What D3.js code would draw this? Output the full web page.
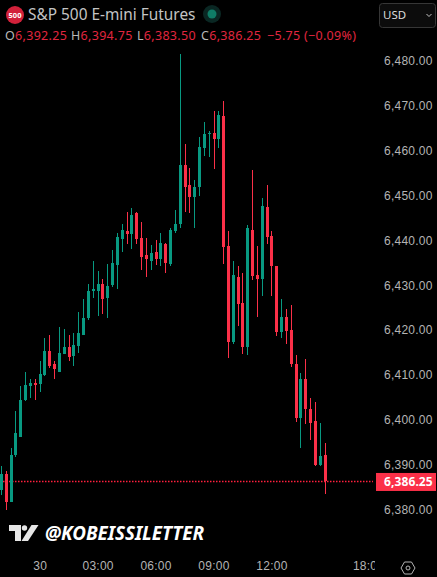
<!DOCTYPE html>
<html>
<head>
<meta charset="utf-8">
<script src="https://cdnjs.cloudflare.com/ajax/libs/d3/7.8.5/d3.min.js"></script>
<style>
  html, body { margin: 0; padding: 0; background: #000; overflow: hidden; }
  svg { display: block; font-family: "Noto Sans", sans-serif; }
  .axis text { fill: #b4b4b4; font-size: 12px; letter-spacing: 0.25px; }
  .axis path, .axis line { display: none; }
</style>
</head>
<body>
<svg></svg>
<script>
// 15 minute candles
let opens = [6384.25, 6388, 6381.75, 6392.25, 6396.25, 6404.5, 6407.5, 6408.25, 6408, 6410, 6415.25, 6412.5, 6410.75, 6414.75, 6416.25, 6414.25, 6416.5, 6419, 6422.75, 6428.75, 6428.75, 6430.25, 6427.25, 6430, 6434.5, 6440.25, 6442, 6441.5, 6446, 6440.5, 6436.75, 6435.5, 6437.5, 6435.75, 6439.25, 6434.75, 6442, 6443.75, 6456.75, 6452.25, 6449.75, 6452, 6460.5, 6463.75, 6464, 6462.5, 6467.75, 6438.75, 6417.25, 6431.75, 6426, 6416.25, 6442.25, 6432.25, 6431.5, 6447.5, 6441, 6434.25, 6419.5, 6423, 6420, 6412.5, 6400.5, 6409, 6402.5, 6399.75, 6390, 6392.25];
let highs = [6389.75, 6388.5, 6393.75, 6402, 6407.5, 6410.75, 6409, 6409, 6413, 6418.25, 6419, 6413, 6420.75, 6420.25, 6419, 6419.25, 6424, 6427, 6430.25, 6435.5, 6433.25, 6431.5, 6434.75, 6437.75, 6441.75, 6443.75, 6446.25, 6447.25, 6446.25, 6444, 6440.5, 6439, 6440, 6441.75, 6439.5, 6442.75, 6446.75, 6481.5, 6461.5, 6456.25, 6453.5, 6463, 6466.5, 6464.5, 6468.75, 6468.75, 6471, 6442, 6435.5, 6434.25, 6432.75, 6443.5, 6455.75, 6438.75, 6449.5, 6452.25, 6442, 6434.25, 6427, 6424.75, 6425.5, 6414.5, 6410.5, 6413.5, 6404.75, 6404, 6399.25, 6394.75];
let lows = [6383.25, 6380, 6381.75, 6391.75, 6396.25, 6404.25, 6404.75, 6404.5, 6406.25, 6409.75, 6411.5, 6409, 6410.75, 6414.75, 6413, 6412, 6415, 6419, 6422.25, 6427.25, 6423.25, 6423.5, 6422.75, 6429.5, 6429.25, 6437.5, 6439.25, 6438, 6439.25, 6433.5, 6431.75, 6433.5, 6434.5, 6434.25, 6432.75, 6434.25, 6441.75, 6442.75, 6446.25, 6446, 6442.75, 6450, 6458.75, 6458.5, 6456, 6460.5, 6434.75, 6413.75, 6417, 6421, 6414.75, 6414.5, 6431.25, 6423, 6427.5, 6439.25, 6427.5, 6418.75, 6418.25, 6417, 6411.75, 6399.5, 6393.75, 6399, 6395.5, 6389.75, 6389.75, 6383.5];
let closes = [6388, 6381.75, 6392.25, 6397, 6404.5, 6407.75, 6408.25, 6407.75, 6410.25, 6415.25, 6412, 6411.25, 6415, 6416.25, 6414, 6416.75, 6419.25, 6422.75, 6428.75, 6429.25, 6430.25, 6427, 6429.75, 6435, 6440.75, 6442.25, 6441.5, 6445.75, 6440.25, 6436.25, 6435.75, 6437.25, 6435.75, 6439.5, 6435, 6442.25, 6443.75, 6456.75, 6452, 6449.75, 6452, 6460.75, 6463.75, 6464, 6462.5, 6468, 6438.5, 6417.25, 6432.25, 6425.75, 6416.25, 6442.75, 6432, 6431.5, 6447.75, 6440.75, 6434.25, 6419.5, 6423, 6419.75, 6412.5, 6400.5, 6409, 6402.5, 6399.25, 6390, 6392, 6386.25];

let priceTicks = [6380, 6390, 6400, 6410, 6420, 6430, 6440, 6450, 6460, 6470, 6480];
let lastPrice = 6386.25;
let timeTickBars = [8, 20, 32, 44, 56, 76];
let timeTickLabels = ["30", "03:00", "06:00", "09:00", "12:00", "18:00"];

let legendParts = [
  { letter: "O", value: "6,392.25", x: 5 },
  { letter: "H", value: "6,394.75", x: 71 },
  { letter: "L", value: "6,383.50", x: 137 },
  { letter: "C", value: "6,386.25", x: 201 }
];

let width = 437;
let height = 577;
let green = "#089981";
let red = "#fb3048";

let svg = d3.select("svg").attr("width", width).attr("height", height);
svg.append("rect").attr("width", width).attr("height", height).attr("fill", "#000");

// bar number -> x, price -> y
let scaleX = d3.scaleLinear().domain([0, 67]).range([1, 324.6]);
let scaleY = d3.scaleLinear().domain([6380, 6480]).range([509.5, 61]);

// цена закрытия - пунктир
svg.append("line")
  .attr("x1", 0)
  .attr("x2", 373)
  .attr("y1", Math.round(scaleY(lastPrice)) + 0.5)
  .attr("y2", Math.round(scaleY(lastPrice)) + 0.5)
  .attr("stroke", "#ff1f3d")
  .attr("stroke-width", 1.5)
  .attr("stroke-dasharray", "1.5 1.5");

// candles
let candles = svg.append("g").attr("shape-rendering", "crispEdges");
opens.forEach(function (open, i) {
  let color = closes[i] >= open ? green : red;
  let cx = Math.round(scaleX(i));
  candles.append("rect")
    .attr("x", cx)
    .attr("y", scaleY(highs[i]))
    .attr("width", 1)
    .attr("height", scaleY(lows[i]) - scaleY(highs[i]))
    .attr("fill", color);
  let top = scaleY(Math.max(open, closes[i]));
  let bottom = scaleY(Math.min(open, closes[i]));
  candles.append("rect")
    .attr("x", cx - 1)
    .attr("y", top)
    .attr("width", 3)
    .attr("height", Math.max(bottom - top, 1))
    .attr("fill", color);
});

// price axis
let axisY = d3.axisRight(scaleY)
  .tickValues(priceTicks)
  .tickSize(0)
  .tickPadding(0)
  .tickFormat(d3.format(",.2f"));
svg.append("g")
  .attr("class", "axis")
  .attr("transform", "translate(384, 0)")
  .call(axisY);

// last price label
svg.append("rect")
  .attr("x", 376)
  .attr("y", scaleY(lastPrice) - 8.5)
  .attr("width", 60)
  .attr("height", 18)
  .attr("fill", red);
svg.append("text")
  .attr("x", 384)
  .attr("y", scaleY(lastPrice) + 4.5)
  .attr("fill", "#fff")
  .attr("font-size", 12)
  .attr("font-weight", 700)
  .attr("letter-spacing", 0.1)
  .text(d3.format(",.2f")(lastPrice));

// time axis, 18:00 is cut by the price scale
svg.append("clipPath")
  .attr("id", "timeClip")
  .append("rect")
  .attr("x", 0)
  .attr("y", 550)
  .attr("width", 375)
  .attr("height", 27);
let axisX = d3.axisBottom(scaleX)
  .tickValues(timeTickBars)
  .tickSize(0)
  .tickPadding(0)
  .tickFormat(function (d, i) {
    return timeTickLabels[i];
  });
svg.append("g")
  .attr("clip-path", "url(#timeClip)")
  .append("g")
  .attr("class", "axis")
  .attr("transform", "translate(0, 561)")
  .call(axisX);

// header
svg.append("circle").attr("cx", 15).attr("cy", 15).attr("r", 9).attr("fill", "#d2213a");
svg.append("text")
  .attr("x", 15)
  .attr("y", 17.5)
  .attr("text-anchor", "middle")
  .attr("fill", "#fff")
  .attr("font-size", 7.5)
  .attr("font-weight", 700)
  .text("500");
svg.append("text")
  .attr("x", 28)
  .attr("y", 20)
  .attr("fill", "#c4c4c4")
  .attr("font-size", 15.4)
  .text("S&P 500 E-mini Futures");
svg.append("circle").attr("cx", 212).attr("cy", 14).attr("r", 9).attr("fill", "#0a2723");
svg.append("circle").attr("cx", 212).attr("cy", 14).attr("r", 4.5).attr("fill", "#0f7c66");

legendParts.forEach(function (d) {
  let t = svg.append("text")
    .attr("x", d.x)
    .attr("y", 40)
    .attr("font-size", 12.5)
    .attr("letter-spacing", 0.3);
  t.append("tspan").attr("fill", "#b8b8b8").text(d.letter);
  t.append("tspan").attr("fill", "#e0263f").text(d.value);
});
svg.append("text")
  .attr("x", 267)
  .attr("y", 40)
  .attr("fill", "#e0263f")
  .attr("font-size", 12.5)
  .attr("letter-spacing", 0.3)
  .text("\u22125.75 (\u22120.09%)");

// currency button
svg.append("rect")
  .attr("x", 379.5)
  .attr("y", 3.5)
  .attr("width", 56)
  .attr("height", 24)
  .attr("rx", 3)
  .attr("fill", "#0c0c0c")
  .attr("stroke", "#363636");
svg.append("text")
  .attr("x", 383)
  .attr("y", 19)
  .attr("fill", "#dcdcdc")
  .attr("font-size", 11.5)
  .text("USD");
svg.append("path")
  .attr("d", "M426.5 14l2.5 2.5 2.5-2.5")
  .attr("fill", "none")
  .attr("stroke", "#c4c4c4");

// watermark
let logo = svg.append("g").attr("fill", "#e6e6e6");
logo.append("path").attr("d", "M9 525H21V541H15V531H9Z");
logo.append("circle").attr("cx", 24.5).attr("cy", 528).attr("r", 2.7);
logo.append("path").attr("d", "M31.5 525H38.5L28 541H21.5Z");
svg.append("text")
  .attr("x", 45)
  .attr("y", 540)
  .attr("fill", "#fff")
  .attr("font-size", 18.8)
  .attr("font-weight", 700)
  .attr("font-style", "italic")
  .text("@KOBEISSILETTER");

// settings icon
svg.append("path")
  .attr("d", "M401 568L404.5 562H411.5L415 568L411.5 574H404.5Z")
  .attr("fill", "none")
  .attr("stroke", "#b4b4b4");
svg.append("circle")
  .attr("cx", 408)
  .attr("cy", 568)
  .attr("r", 2)
  .attr("fill", "none")
  .attr("stroke", "#b4b4b4");
</script>
</body>
</html>
